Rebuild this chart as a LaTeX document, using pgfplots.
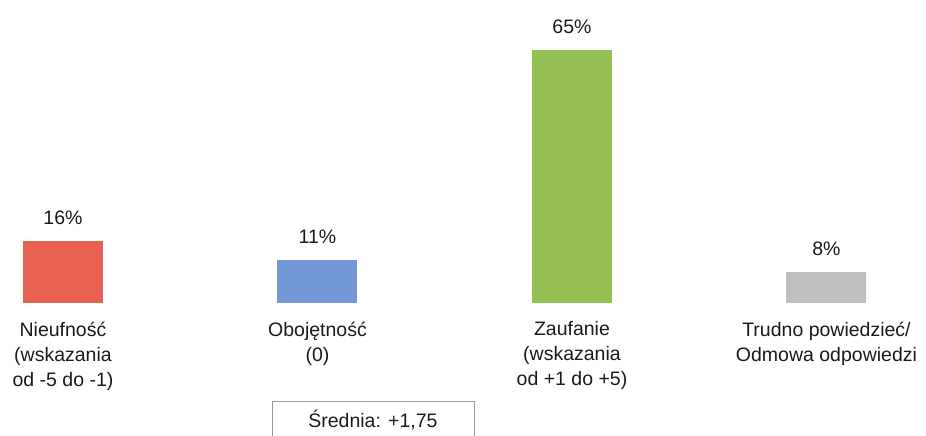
\documentclass[border=0pt]{standalone}
\usepackage{pgfplots}
\pgfplotsset{compat=1.18}
\usepackage{fontspec}
\setmainfont{Liberation Sans}
\definecolor{cRed}{RGB}{232,97,83}
\definecolor{cBlue}{RGB}{116,152,213}
\definecolor{cGreen}{RGB}{149,192,84}
\definecolor{cGray}{RGB}{191,191,191}
\definecolor{txt}{RGB}{26,26,26}
\begin{document}
\begin{tikzpicture}
\begin{axis}[
  scale only axis,
  width=926pt, height=436pt,
  xmin=-0.2475, xmax=3.3911,
  ymin=-34.2, ymax=77.9,
  axis line style={draw=none},
  ytick=\empty,
  xtick={0,1,2,3},
  xtick style={draw=none},
  xticklabels={{Nieufność\\(wskazania\\od -5 do -1)},{Obojętność\\(0)},{Zaufanie\\(wskazania\\od +1 do +5)},{Trudno powiedzieć/\\Odmowa odpowiedzi}},
  xticklabel style={align=center, anchor=north, font=\fontsize{19.5}{25}\selectfont, text=txt, yshift=122pt},
  /pgf/number format/assume math mode=true,
  ybar, bar width=80pt, bar shift=0pt,
  nodes near coords={\pgfmathprintnumber{\pgfplotspointmeta}\%},
  nodes near coords style={font=\fontsize{19.5}{25}\selectfont, text=txt, anchor=south, yshift=13pt},
  clip=false,
]
\addplot[draw=none, fill=cRed] coordinates {(0,16)};
\addplot[draw=none, fill=cBlue] coordinates {(1,11)};
\addplot[draw=none, fill=cGreen] coordinates {(2,65)};
\addplot[draw=none, fill=cGray] coordinates {(3,8)};
\draw[gray!80, line width=0.8pt] (axis cs:0.821,-35) -- (axis cs:0.821,-25.2) -- (axis cs:1.615,-25.2) -- (axis cs:1.615,-35);
\node[anchor=base, font=\fontsize{19.5}{25}\selectfont, text=txt] at (axis cs:1.218,-32.1) {Średnia: +1,75};
\end{axis}
\pgfresetboundingbox
\path (0,0) rectangle (926pt,436pt);
\end{tikzpicture}
\end{document}
